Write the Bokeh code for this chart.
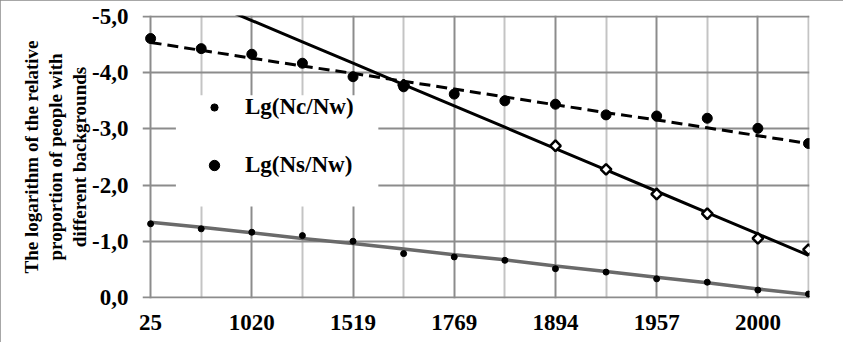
import math
from bokeh.plotting import figure
from bokeh.models import FixedTicker, Legend, LegendItem, BoxAnnotation, Range1d
from bokeh.embed import file_html
from bokeh.resources import INLINE

nan = float("nan")

# 14 periods, labelled every second one
period = list(range(14))
x_tick_labels = ["25", "1020", "1519", "1769", "1894", "1957", "2000"]
y_ticks = [-5, -4, -3, -2, -1, 0]
y_tick_labels = ["-5,0", "-4,0", "-3,0", "-2,0", "-1,0", "0,0"]

# Lg(Ns/Nw) - big dots, dashed trend line
ns_nw = [-4.61, -4.43, -4.33, -4.17, -3.93, -3.75, -3.62, -3.50, -3.44, -3.25, -3.23, -3.19, -3.01, -2.74]
ns_trend = [-4.54, -4.40, -4.26, -4.12, -3.99, -3.85, -3.71, -3.57, -3.43, -3.29, -3.16, -3.02, -2.88, -2.74]

# Lg(Nc/Nw) - small dots, grey trend line
nc_nw = [-1.31, -1.22, -1.16, -1.10, -1.00, -0.78, -0.72, -0.66, -0.51, -0.45, -0.33, -0.27, -0.13, -0.06]
nc_trend = [-1.34, -1.25, -1.15, -1.05, -0.96, -0.86, -0.76, -0.67, -0.56, -0.46, -0.36, -0.26, -0.15, -0.05]

# third series (not in legend) - diamonds, solid black trend line
third = [nan, nan, nan, nan, nan, -3.78, nan, nan, -2.70, -2.28, -1.84, -1.49, -1.05, -0.85]
third_trend = [-5.69, -5.31, -4.93, -4.55, -4.17, -3.79, -3.41, -3.03, -2.65, -2.27, -1.89, -1.51, -1.13, -0.75]

y_title = "The logarithm of the relative\nproportion of people with\ndifferent backgrounds"

FONT = "Liberation Serif"

p = figure(width=843, height=342, output_backend="svg", toolbar_location=None,
           x_range=Range1d(-0.16, 13.02), y_range=Range1d(0.02, -5.02),
           min_border_left=142, min_border_right=34, min_border_top=15, min_border_bottom=44)
p.styles = {"outline": "2px solid #8a8a8a", "outline-offset": "-2px"}
p.outline_line_color = None
p.background_fill_color = "white"
p.border_fill_color = "white"

even = period[0::2]
odd = period[1::2]
xt = FixedTicker(ticks=even, minor_ticks=odd)
p.xaxis.ticker = xt
p.xaxis.major_label_overrides = {i: lab for i, lab in zip(even, x_tick_labels)}
p.yaxis.ticker = FixedTicker(ticks=y_ticks)
p.yaxis.major_label_overrides = {t: lab for t, lab in zip(y_ticks, y_tick_labels)}

for ax in (p.xaxis[0], p.yaxis[0]):
    ax.axis_line_color = None
    ax.major_tick_line_color = None
    ax.minor_tick_line_color = None
    ax.major_tick_out = 0
    ax.major_tick_in = 0
    ax.minor_tick_out = 0
    ax.major_label_text_font = FONT
    ax.major_label_text_font_style = "bold"
    ax.major_label_text_font_size = "23px"
    ax.major_label_text_color = "black"
p.xaxis.major_label_standoff = 16
p.yaxis.major_label_standoff = 14

p.yaxis.axis_label = y_title
p.yaxis.axis_label_text_font = FONT
p.yaxis.axis_label_text_font_style = "bold"
p.yaxis.axis_label_text_font_size = "19px"
p.yaxis.axis_label_text_color = "black"
p.yaxis.axis_label_text_line_height = 1.15
p.yaxis.axis_label_standoff = -1

p.xgrid.grid_line_color = "#8c8c8c"
p.xgrid.grid_line_width = 2
p.xgrid.minor_grid_line_color = "#c4c4c4"
p.xgrid.minor_grid_line_width = 2
p.ygrid.grid_line_color = "#8c8c8c"
p.ygrid.grid_line_width = 2

# trend lines
p.line(period, nc_trend, line_color="#6a6a6a", line_width=3.5)
p.line(period, third_trend, line_color="black", line_width=3)
p.line(period, ns_trend, line_color="black", line_width=3, line_dash="11 6")

# points
r_third = p.scatter(period, third, marker="square", angle=math.pi / 4, size=7.5,
                    fill_color="white", line_color="black", line_width=2.5)
r_nc = p.scatter(period, nc_nw, size=6, color="black")
r_ns = p.scatter(period, ns_nw, size=10, color="black")

# white legend area
p.add_layout(BoxAnnotation(left=0.5, right=4.5, top=-3.6, bottom=-1.62,
                           fill_color="white", fill_alpha=1, line_color=None))

common = dict(padding=0, margin=0, spacing=0, border_line_color=None,
              background_fill_alpha=0, label_text_font=FONT,
              label_text_font_style="bold", label_text_font_size="23px",
              label_text_color="black")
leg1 = Legend(items=[LegendItem(label="Lg(Nc/Nw)", renderers=[r_nc])],
              location=(63, 178), glyph_width=18, glyph_height=18, label_height=18,
              label_standoff=22, **common)
leg2 = Legend(items=[LegendItem(label="Lg(Ns/Nw)", renderers=[r_ns])],
              location=(59, 120), glyph_width=26, glyph_height=26, label_height=26,
              label_standoff=18, **common)
p.add_layout(leg1)
p.add_layout(leg2)

open("out.html", "w").write(file_html(p, INLINE))
